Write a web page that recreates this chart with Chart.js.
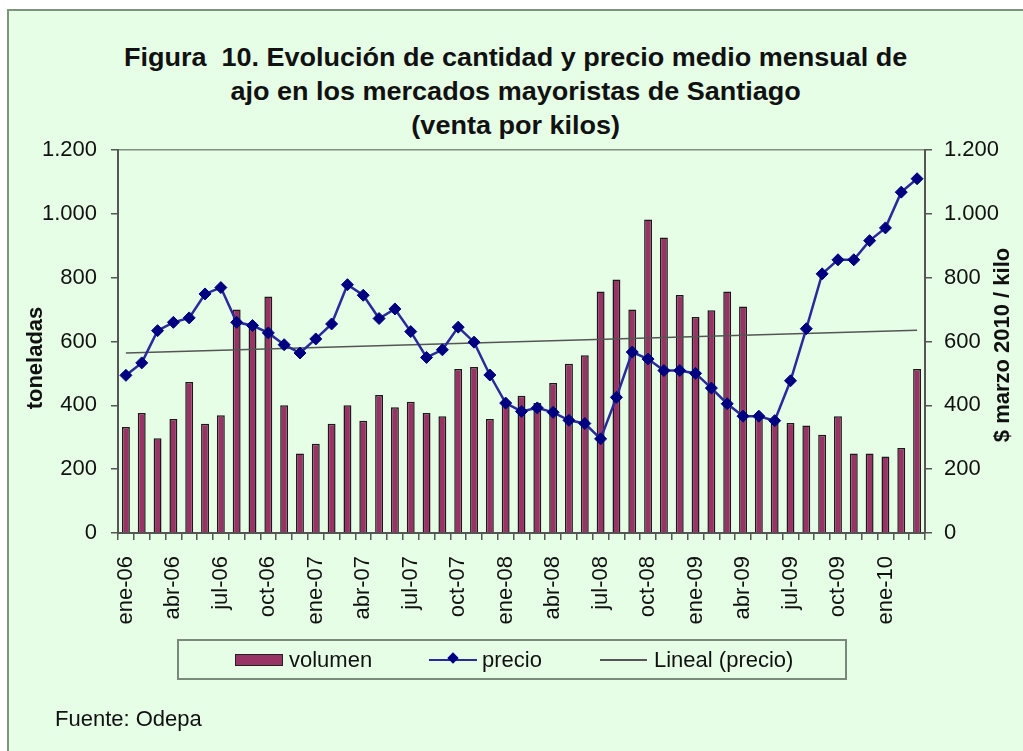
<!DOCTYPE html>
<html>
<head>
<meta charset="utf-8">
<script src="https://cdn.jsdelivr.net/npm/chart.js@4.4.1/dist/chart.umd.min.js"></script>
<style>
  html, body { margin:0; padding:0; background:#fff; overflow:hidden; }
  body { width:1023px; height:751px; position:relative; font-family:"Liberation Sans", Arial, sans-serif; }
  .frame { position:absolute; left:7px; top:9px; width:1040px; height:770px; background:#e6fde6; border:2px solid #7d947d; }
  #chart { position:absolute; left:0; top:0; }
  .title { position:absolute; left:17px; width:1000px; top:40px; text-align:center; font-weight:bold; font-size:25px; line-height:34px; color:#111; transform:scaleX(1.08); transform-origin:517px 0; }
  .ytitle { position:absolute; width:300px; height:26px; line-height:26px; text-align:center; font-weight:bold; font-size:22px; color:#111; transform:rotate(-90deg); }
  .legend { position:absolute; left:177px; top:639px; width:666px; height:37px; border:2px solid #7a8a7a; font-size:22px; color:#111; }
  .legend .it { position:absolute; top:0; height:37px; line-height:37px; }
  .sw { position:absolute; top:13px; width:46px; height:10px; background:#993366; border:1.5px solid #222; }
  .ln { position:absolute; top:18px; height:2px; }
  .dm { position:absolute; top:13px; width:8px; height:8px; background:#000080; transform:rotate(45deg); }
  .foot { position:absolute; left:55px; top:706px; font-size:22px; color:#111; }
</style>
</head>
<body>
<div class="frame"></div>
<div class="title">Figura&nbsp; 10. Evolución de cantidad y precio medio mensual de<br>ajo en los mercados mayoristas de Santiago<br>(venta por kilos)</div>
<canvas id="chart" width="1023" height="751"></canvas>
<div class="ytitle" style="left:-115px;top:345px;">toneladas</div>
<div class="ytitle" style="left:852px;top:332px;">$ marzo 2010 / kilo</div>
<div class="legend">
  <div class="sw" style="left:56px;"></div>
  <div class="it" style="left:110px;">volumen</div>
  <div class="ln" style="left:250px;width:48px;background:#2a2a9a;"></div>
  <div class="dm" style="left:270px;"></div>
  <div class="it" style="left:303px;">precio</div>
  <div class="ln" style="left:421px;width:47px;height:1.5px;background:#555;"></div>
  <div class="it" style="left:475px;">Lineal (precio)</div>
</div>
<div class="foot">Fuente: Odepa</div>
<script>
const months = [
  "ene-06","feb-06","mar-06","abr-06","may-06","jun-06","jul-06","ago-06","sep-06","oct-06","nov-06","dic-06",
  "ene-07","feb-07","mar-07","abr-07","may-07","jun-07","jul-07","ago-07","sep-07","oct-07","nov-07","dic-07",
  "ene-08","feb-08","mar-08","abr-08","may-08","jun-08","jul-08","ago-08","sep-08","oct-08","nov-08","dic-08",
  "ene-09","feb-09","mar-09","abr-09","may-09","jun-09","jul-09","ago-09","sep-09","oct-09","nov-09","dic-09",
  "ene-10","feb-10","mar-10"
];

// toneladas
const volumen = [
  332, 376, 297, 357, 473, 342, 369, 700, 660, 741, 400, 249,
  280, 342, 400, 352, 432, 394, 411, 376, 366, 514, 520, 357,
  405, 430, 407, 470, 530, 557, 757, 794, 700, 982, 926, 746,
  677, 698, 757, 710, 360, 350, 345, 337, 308, 366, 249, 249,
  240, 266, 514
];

// $ marzo 2010 / kilo
const precio = [
  494, 533, 634, 660, 674, 749, 769, 660, 650, 627, 590, 564,
  608, 655, 778, 745, 672, 702, 631, 550, 574, 645, 598, 495,
  407, 381, 392, 378, 353, 343, 295, 425, 567, 545, 509, 509,
  500, 454, 405, 366, 366, 352, 477, 640, 812, 856, 856, 916,
  956, 1068, 1110
];

// linea de tendencia, extremos
const trendStart = 564;
const trendEnd = 635;

const yTicks = [0, 200, 400, 600, 800, 1000, 1200];

const trend = months.map((m, i) => i === 0 ? trendStart : (i === months.length - 1 ? trendEnd : null));
const fmt = v => String(v).replace(/\B(?=(\d{3})+(?!\d))/g, ".");
const AX = "#555";
const FONT = "Liberation Sans";

new Chart(document.getElementById("chart"), {
  data: {
    labels: months,
    datasets: [
      { type:"line", label:"precio", data: precio, yAxisID:"y1", order:0,
        borderColor:"#2a2a9a", borderWidth:2.5, tension:0,
        pointStyle:"rectRot", pointRadius:6, pointBackgroundColor:"#000080", pointBorderColor:"#000080", pointBorderWidth:1 },
      { type:"line", label:"Lineal (precio)", data: trend, yAxisID:"y1", order:1, spanGaps:true,
        borderColor:"#555", borderWidth:1.5, pointRadius:0 },
      { type:"bar", label:"volumen", data: volumen, yAxisID:"y", order:2,
        backgroundColor:"#993366", borderColor:"#1a1a1a", borderWidth:1.5,
        barPercentage:0.5, categoryPercentage:1 }
    ]
  },
  options: {
    responsive:false, animation:false,
    layout: { padding: { left:20, right:4, top:150, bottom:0 } },
    plugins: { legend:{ display:false }, tooltip:{ enabled:false } },
    scales: {
      x: {
        offset:true,
        afterFit: s => { s.height = 218; },
        grid: { offset:true, drawOnChartArea:false, drawTicks:true, tickLength:7, color:AX, lineWidth:1.5 },
        border: { color:AX, width:2 },
        ticks: { autoSkip:false, minRotation:90, maxRotation:90, padding:16, color:"#111",
          font:{ family:FONT, size:22 },
          callback: (v, i) => i % 3 === 0 ? months[i] : "" }
      },
      y: {
        position:"left", min:0, max:1200,
        afterBuildTicks: s => { s.ticks = yTicks.map(v => ({ value:v })); },
        afterFit: s => { s.width = 98; },
        grid: { drawOnChartArea:true, tickLength:7, lineWidth:1.5,
          color: c => c.tick && c.tick.value === 1200 ? "#7f8f7f" : "rgba(0,0,0,0)", tickColor:AX },
        border: { color:AX, width:2 },
        ticks: { padding:14, color:"#111", font:{ family:FONT, size:22 }, callback: v => fmt(v) }
      },
      y1: {
        position:"right", min:0, max:1200,
        afterBuildTicks: s => { s.ticks = yTicks.map(v => ({ value:v })); },
        afterFit: s => { s.width = 94; },
        grid: { drawOnChartArea:false, tickLength:7, lineWidth:1.5, color:AX },
        border: { color:AX, width:2 },
        ticks: { padding:12, color:"#111", font:{ family:FONT, size:22 }, callback: v => fmt(v) }
      }
    }
  }
});
</script>
</body>
</html>
